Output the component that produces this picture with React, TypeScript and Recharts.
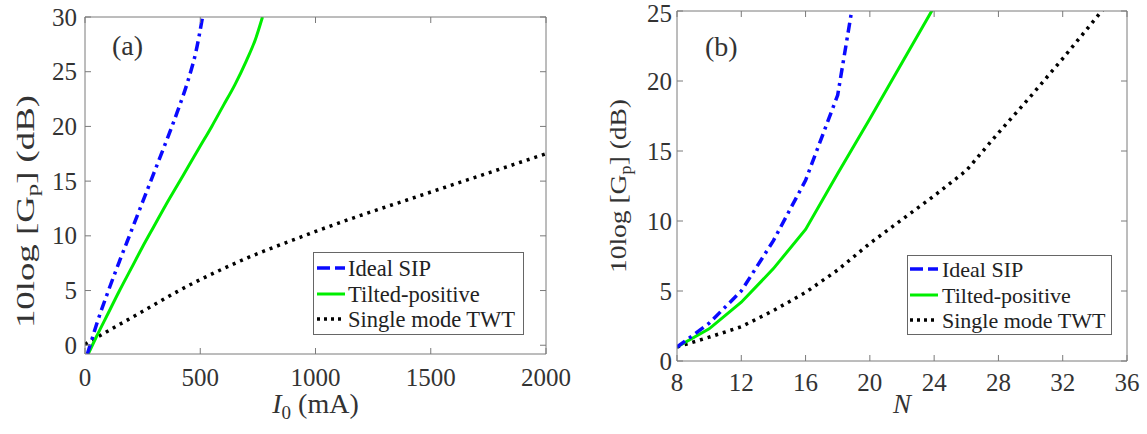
import { LineChart, Line, XAxis, YAxis, Legend, Label } from 'recharts'

const BOX = '#7a7a7a'
const INK = '#333333'
const FONT = '"Liberation Serif", "Times New Roman", serif'

// (a) gain vs beam current I0 (mA)
const sipCurrent = [10, 25, 50, 100, 150, 200, 250, 300, 350, 400, 450, 480, 510]
const sipGainA = [-0.8, 0.2, 1.9, 4.9, 7.7, 10.4, 13.1, 15.8, 18.5, 21.3, 24.4, 26.7, 30.0]
const tiltCurrent = [14, 50, 100, 150, 200, 250, 300, 350, 400, 450, 500, 550, 600, 650, 700, 740, 770]
const tiltGainA = [-0.8, 0.8, 2.9, 5.0, 7.0, 9.0, 10.9, 12.8, 14.6, 16.4, 18.2, 20.0, 21.9, 23.8, 26.0, 28.0, 30.0]
const twtCurrent = [0, 100, 200, 300, 400, 500, 600, 700, 800, 900, 1000, 1200, 1400, 1600, 1800, 2000]
const twtGainA = [0.1, 1.3, 2.5, 3.7, 4.9, 6.0, 7.0, 7.95, 8.8, 9.6, 10.4, 11.9, 13.3, 14.7, 16.1, 17.5]

// (b) gain vs number of unit cells N
const sipCells = [8, 10, 12, 14, 16, 18, 20]
const sipGainB = [1.0, 2.7, 5.0, 8.6, 12.9, 19.0, 32.8]
const tiltCells = [8, 10, 12, 14, 16, 18, 20, 22, 24]
const tiltGainB = [1.0, 2.3, 4.2, 6.6, 9.4, 13.4, 17.3, 21.3, 25.3]
const twtCells = [8, 10, 12, 14, 16, 18, 20, 22, 24, 26, 28, 30, 32, 34, 36]
const twtGainB = [1.0, 1.7, 2.45, 3.6, 4.9, 6.5, 8.4, 10.1, 11.8, 13.6, 16.3, 18.9, 21.6, 24.4, 27.2]

const ticksAX = [0, 500, 1000, 1500, 2000]
const ticksAY = [0, 5, 10, 15, 20, 25, 30]
const ticksBX = [8, 12, 16, 20, 24, 28, 32, 36]
const ticksBY = [0, 5, 10, 15, 20, 25]

const pts = (xs: number[], ys: number[]) => xs.map((x, i) => ({ x, y: ys[i] }))

const series = [
  { name: 'Ideal SIP', color: '#0a0aff', width: 3.5, dash: '10 5 3 5', legendDash: '13 5' },
  { name: 'Tilted-positive', color: '#00ee00', width: 3, dash: undefined, legendDash: undefined },
  { name: 'Single mode TWT', color: '#000000', width: 3.5, dash: '3 5', legendDash: '3 4' },
]

const txt = { fontFamily: FONT, fill: INK }

const bottomTick = (gap: number) => ({ x, y, payload }: any) => (
  <g>
    <line x1={x} x2={x} y1={y} y2={y - 6} stroke={BOX} />
    <text x={x} y={y + gap} textAnchor="middle" dominantBaseline="central" fontSize={25} {...txt}>
      {payload.value}
    </text>
  </g>
)
// minY keeps the topmost label inside the page
const leftTick = (gap: number, minY: number) => ({ x, y, payload }: any) => (
  <g>
    <line x1={x} x2={x + 6} y1={y} y2={y} stroke={BOX} />
    <text x={x - gap} y={Math.max(y, minY)} textAnchor="end" dominantBaseline="central" fontSize={25} {...txt}>
      {payload.value}
    </text>
  </g>
)
const TopTick = ({ x, y }: any) => <line x1={x} x2={x} y1={y} y2={y + 6} stroke={BOX} />
const RightTick = ({ x, y }: any) => <line x1={x} x2={x - 6} y1={y} y2={y} stroke={BOX} />

function LegendBox({ width, height, rowY, sampleX, textX, size }: {
  width: number; height: number; rowY: number[]; sampleX: number; textX: number; size: number
}) {
  return (
    <svg width={width} height={height} style={{ display: 'block' }}>
      <rect x={0.5} y={0.5} width={width - 1} height={height - 1} fill="#fff" stroke="#666" />
      {series.map((s, i) => (
        <g key={s.name}>
          <line x1={sampleX} x2={sampleX + 28} y1={rowY[i]} y2={rowY[i]} stroke={s.color} strokeWidth={s.width}
            strokeDasharray={s.legendDash} />
          <text x={textX} y={rowY[i]} dominantBaseline="central" fontSize={size} fontFamily={FONT} fill="#222">
            {s.name}
          </text>
        </g>
      ))}
    </svg>
  )
}

// y-axis title plus the panel tag, drawn from the left axis label slot
function yLabel(dx: number, dy: number, size: number, len: number, tag: string, tagX: number, tagY: number) {
  return ({ viewBox }: any) => {
    const cx = viewBox.x + dx
    const cy = viewBox.y + viewBox.height / 2 + dy
    return (
      <g>
        <text
          x={cx} y={cy} transform={`rotate(-90 ${cx} ${cy})`} textAnchor="middle" dominantBaseline="central"
          fontSize={size} textLength={len} lengthAdjust="spacingAndGlyphs" {...txt}
        >
          10log [G<tspan fontSize={size * 0.68} dy={7}>p</tspan><tspan dy={-7}>] (dB)</tspan>
        </text>
        <text x={viewBox.x + viewBox.width + tagX} y={viewBox.y + tagY} fontSize={28} {...txt}>{tag}</text>
      </g>
    )
  }
}

export default function App() {
  return (
    <div style={{ position: 'absolute', left: 0, top: 0, width: 1147, height: 434, background: '#fff', overflow: 'hidden' }}>
      <div style={{ position: 'absolute', left: 0, top: 0 }}>
        <LineChart width={580} height={434} margin={{ top: 16, right: 33, bottom: 50, left: 25 }}>
          <XAxis dataKey="x" type="number" domain={[0, 2000]} ticks={ticksAX} interval={0} allowDataOverflow
            height={30} tickSize={0} tickMargin={0} stroke={BOX} tick={bottomTick(23)}>
            <Label content={({ viewBox }: any) => {
              const cx = viewBox.x + viewBox.width / 2
              const by = viewBox.y + 59
              return (
                <text x={cx} y={by} textAnchor="middle" fontSize={28} {...txt}>
                  <tspan fontStyle="italic">I</tspan>
                  <tspan fontSize={19} dy={6}>0</tspan>
                  <tspan dy={-6}> (mA)</tspan>
                </text>
              )
            }} />
          </XAxis>
          <XAxis xAxisId="top" dataKey="x" orientation="top" type="number" domain={[0, 2000]} ticks={ticksAX} interval={0}
            allowDataOverflow height={1} tickSize={0} tickMargin={0} stroke={BOX} tick={TopTick} />
          <YAxis type="number" domain={[-0.8, 30]} ticks={ticksAY} interval={0} allowDataOverflow
            width={60} tickSize={0} tickMargin={0} stroke={BOX} tick={leftTick(8, 0)}>
            <Label content={yLabel(0, 26, 26, 233, '(a)', 27, 38)} />
          </YAxis>
          <YAxis yAxisId="right" orientation="right" type="number" domain={[-0.8, 30]} ticks={ticksAY} interval={0}
            allowDataOverflow width={1} tickSize={0} tickMargin={0} stroke={BOX} tick={RightTick} />
          <Legend verticalAlign="middle" align="center" wrapperStyle={{ left: 313, top: 252, width: 211, height: 83 }}
            content={() => <LegendBox width={211} height={83} rowY={[16, 42, 67]} sampleX={4} textX={35} size={22.5} />} />
          <Line data={pts(twtCurrent, twtGainA)} dataKey="y" xAxisId="top" yAxisId="right" name={series[2].name}
            type="monotone" dot={false} stroke={series[2].color} strokeWidth={series[2].width}
            strokeDasharray={series[2].dash} isAnimationActive={false} />
          <Line data={pts(tiltCurrent, tiltGainA)} dataKey="y" name={series[1].name} type="monotone" dot={false}
            stroke={series[1].color} strokeWidth={series[1].width} isAnimationActive={false} />
          <Line data={pts(sipCurrent, sipGainA)} dataKey="y" name={series[0].name} type="monotone" dot={false}
            stroke={series[0].color} strokeWidth={series[0].width} strokeDasharray={series[0].dash} isAnimationActive={false} />
        </LineChart>
      </div>

      <div style={{ position: 'absolute', left: 580, top: -20 }}>
        <LineChart width={567} height={454} margin={{ top: 30, right: 19, bottom: 43, left: 37 }}>
          <XAxis dataKey="x" type="number" domain={[8, 36]} ticks={ticksBX} interval={0} allowDataOverflow
            height={30} tickSize={0} tickMargin={0} stroke={BOX} tick={bottomTick(21)}>
            <Label content={({ viewBox }: any) => (
              <text x={viewBox.x + viewBox.width / 2} y={viewBox.y + 52} textAnchor="middle" fontSize={27}
                fontStyle="italic" {...txt}>N</text>
            )} />
          </XAxis>
          <XAxis xAxisId="top" dataKey="x" orientation="top" type="number" domain={[8, 36]} ticks={ticksBX} interval={0}
            allowDataOverflow height={1} tickSize={0} tickMargin={0} stroke={BOX} tick={TopTick} />
          <YAxis type="number" domain={[0, 25]} ticks={ticksBY} interval={0} allowDataOverflow
            width={60} tickSize={0} tickMargin={0} stroke={BOX} tick={leftTick(5, 33)}>
            <Label content={yLabel(1, 0, 24, 174, '(b)', 28, 45)} />
          </YAxis>
          <YAxis yAxisId="right" orientation="right" type="number" domain={[0, 25]} ticks={ticksBY} interval={0}
            allowDataOverflow width={1} tickSize={0} tickMargin={0} stroke={BOX} tick={RightTick} />
          <Legend verticalAlign="middle" align="center" wrapperStyle={{ left: 327, top: 275, width: 205, height: 80 }}
            content={() => <LegendBox width={205} height={80} rowY={[14, 40, 65]} sampleX={3} textX={35} size={22} />} />
          <Line data={pts(twtCells, twtGainB)} dataKey="y" xAxisId="top" yAxisId="right" name={series[2].name}
            type="linear" dot={false} stroke={series[2].color} strokeWidth={series[2].width}
            strokeDasharray={series[2].dash} isAnimationActive={false} />
          <Line data={pts(tiltCells, tiltGainB)} dataKey="y" name={series[1].name} type="linear" dot={false}
            stroke={series[1].color} strokeWidth={series[1].width} isAnimationActive={false} />
          <Line data={pts(sipCells, sipGainB)} dataKey="y" name={series[0].name} type="linear" dot={false}
            stroke={series[0].color} strokeWidth={series[0].width} strokeDasharray={series[0].dash} isAnimationActive={false} />
        </LineChart>
      </div>
    </div>
  )
}
